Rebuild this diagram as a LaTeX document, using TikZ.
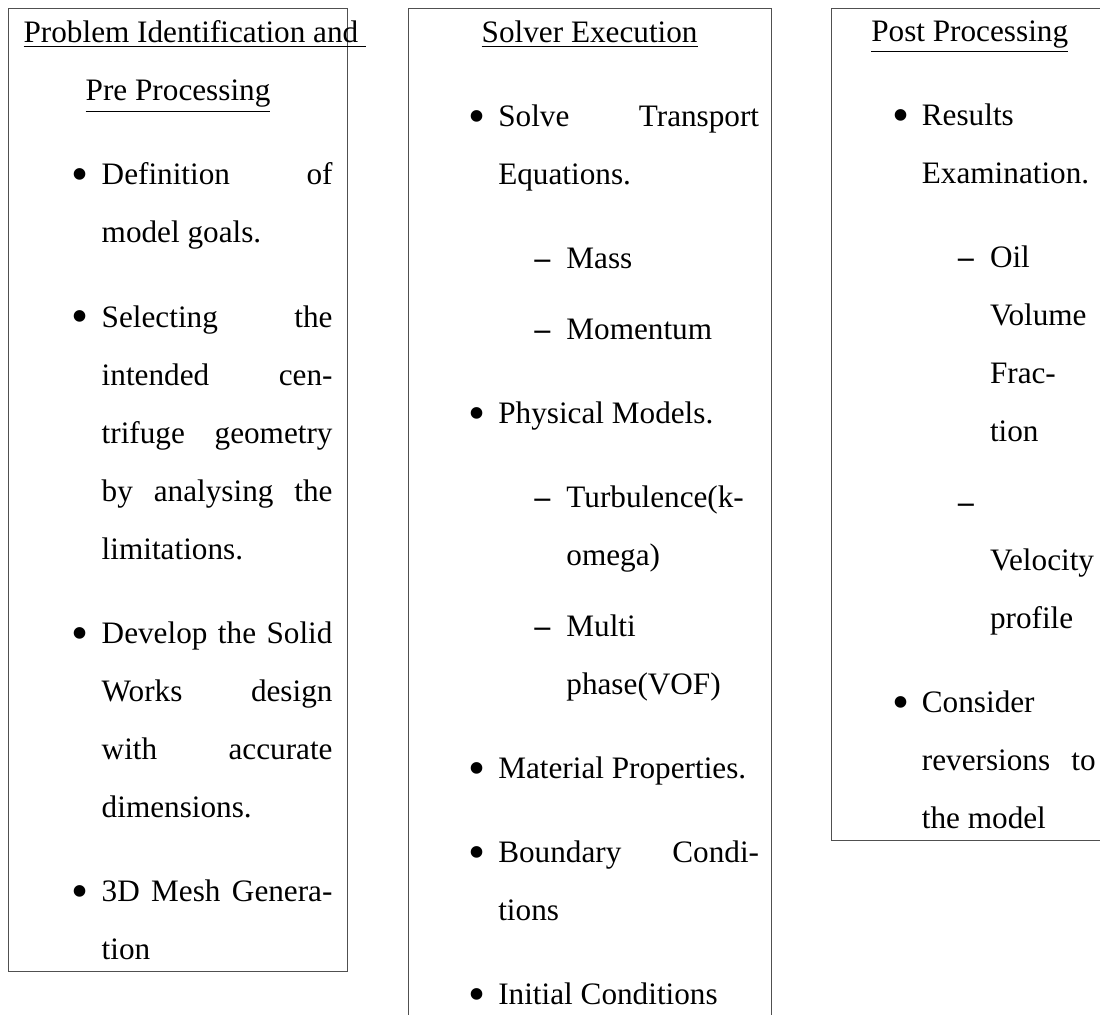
\documentclass[tikz,border=0pt]{standalone}
\usepackage{fontspec}
\setmainfont{Liberation Serif}
\usepackage{enumitem}
\usetikzlibrary{positioning}
\definecolor{FrameGray}{HTML}{505050}
\setlist[itemize,1]{label=\raisebox{-2.2pt}{\fontsize{18pt}{18pt}\selectfont\textbullet}, leftmargin=28.9pt, labelsep=4.7pt, topsep=9.7pt, itemsep=9.7pt, parsep=0pt, partopsep=0pt}
\setlist[itemize,2]{leftmargin=25.2pt, labelsep=6pt, topsep=9.7pt, itemsep=4.6pt, parsep=0pt, partopsep=0pt}
\tikzset{
  stagebox/.style={
    rectangle, draw=FrameGray, line width=0.45pt, anchor=north west,
    inner sep=4.44pt, align=justify, font=\fontsize{11.55pt}{21.46pt}\selectfont
  },
}

\begin{document}
\begin{tikzpicture}[node distance=22pt]
  \useasboundingbox (0,0) rectangle (407pt,-375.2pt);
  \node[stagebox, text width=114.3pt, minimum width=125.4pt] (prepro) at (2.96pt,-2.96pt) {%
    {\centering\underline{Problem Identification and }\\\underline{Pre Processing}\par}
    \begin{itemize}
      \item Definition of\linebreak model goals.
      \item Selecting the\linebreak intended cen-\linebreak trifuge geometry\linebreak by analysing the\linebreak limitations.
      \item Develop the Solid\linebreak Works design\linebreak with accurate\linebreak dimensions.
      \item 3D Mesh Genera-\linebreak tion
    \end{itemize}};
  \node[stagebox, text width=125.4pt, right=of prepro.north east, anchor=north west] (solver) {%
    {\centering\underline{Solver Execution}\par}
    \begin{itemize}
      \item Solve Transport\linebreak Equations.
      \begin{itemize}
        \item Mass
        \item Momentum
      \end{itemize}
      \item Physical Models.
      \begin{itemize}
        \item Turbulence(k-\linebreak omega)
        \item Multi\linebreak phase(VOF)
      \end{itemize}
      \item Material Properties.
      \item Boundary Condi-\linebreak tions
      \item Initial Conditions
    \end{itemize}};
  \node[stagebox, text width=93.2pt, right=of solver.north east, anchor=north west] (postpro) {%
    {\centering\underline{Post Processing}\par}
    \begin{itemize}
      \item Results\linebreak Examination.
      \begin{itemize}
        \item Oil\linebreak Volume\linebreak Frac-\linebreak tion
        \item \mbox{}\linebreak Velocity\linebreak profile
      \end{itemize}
      \item Consider\linebreak reversions to\linebreak the model
    \end{itemize}};
\end{tikzpicture}
\end{document}
